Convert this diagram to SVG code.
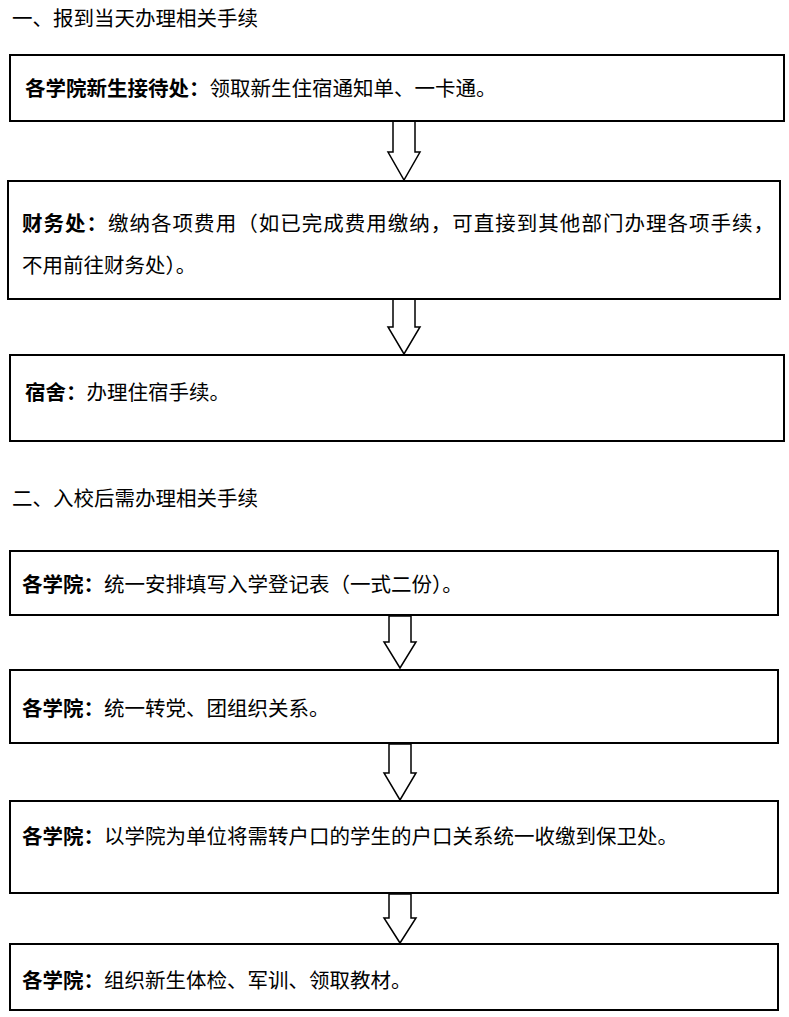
<svg xmlns="http://www.w3.org/2000/svg" width="789" height="1017" viewBox="0 0 789 1017">
<style>
.box{fill:#fff;stroke:#000;stroke-width:2}
.ar{fill:#fff;stroke:#000;stroke-width:1.5}
text{font-family:"Liberation Serif","Noto Sans CJK SC",serif;font-size:20.5px;fill:#000}
.b{font-weight:bold}
</style>
<rect width="789" height="1017" fill="#fff"/>
<text x="12" y="26">一、报到当天办理相关手续</text>
<text x="12" y="506">二、入校后需办理相关手续</text>
<g id="connectors">
<polygon class="ar" points="393,121 415,121 415,152 420,152 404,180 388,152 393,152"/>
<polygon class="ar" points="393,299 415,299 415,327 420,327 404,354 388,327 393,327"/>
<polygon class="ar" points="389,616 411,616 411,642 416,642 400,668 384,642 389,642"/>
<polygon class="ar" points="389,744 411,744 411,773 416,773 400,800 384,773 389,773"/>
<polygon class="ar" points="389,894 411,894 411,918 416,918 400,943 384,918 389,918"/>
</g>
<g id="n1"><rect class="box" x="10" y="55" width="774" height="66"/><text x="25" y="96"><tspan class="b">各学院新生接待处：</tspan>领取新生住宿通知单、一卡通。</text></g>
<g id="n2"><rect class="box" x="8" y="181" width="772" height="118"/><text x="22" y="231" textLength="752" lengthAdjust="spacing"><tspan class="b">财务处：</tspan>缴纳各项费用（如已完成费用缴纳，可直接到其他部门办理各项手续，</text><text x="22" y="273">不用前往财务处）。</text></g>
<g id="n3"><rect class="box" x="10" y="355" width="774" height="86"/><text x="25" y="400"><tspan class="b">宿舍：</tspan>办理住宿手续。</text></g>
<g id="n4"><rect class="box" x="10" y="551" width="768" height="64"/><text x="22" y="592"><tspan class="b">各学院：</tspan>统一安排填写入学登记表（一式二份）。</text></g>
<g id="n5"><rect class="box" x="10" y="670" width="768" height="73"/><text x="22" y="716"><tspan class="b">各学院：</tspan>统一转党、团组织关系。</text></g>
<g id="n6"><rect class="box" x="10" y="801" width="768" height="92"/><text x="22" y="844"><tspan class="b">各学院：</tspan>以学院为单位将需转户口的学生的户口关系统一收缴到保卫处。</text></g>
<g id="n7"><rect class="box" x="10" y="944" width="768" height="66"/><text x="22" y="988"><tspan class="b">各学院：</tspan>组织新生体检、军训、领取教材。</text></g>
</svg>
